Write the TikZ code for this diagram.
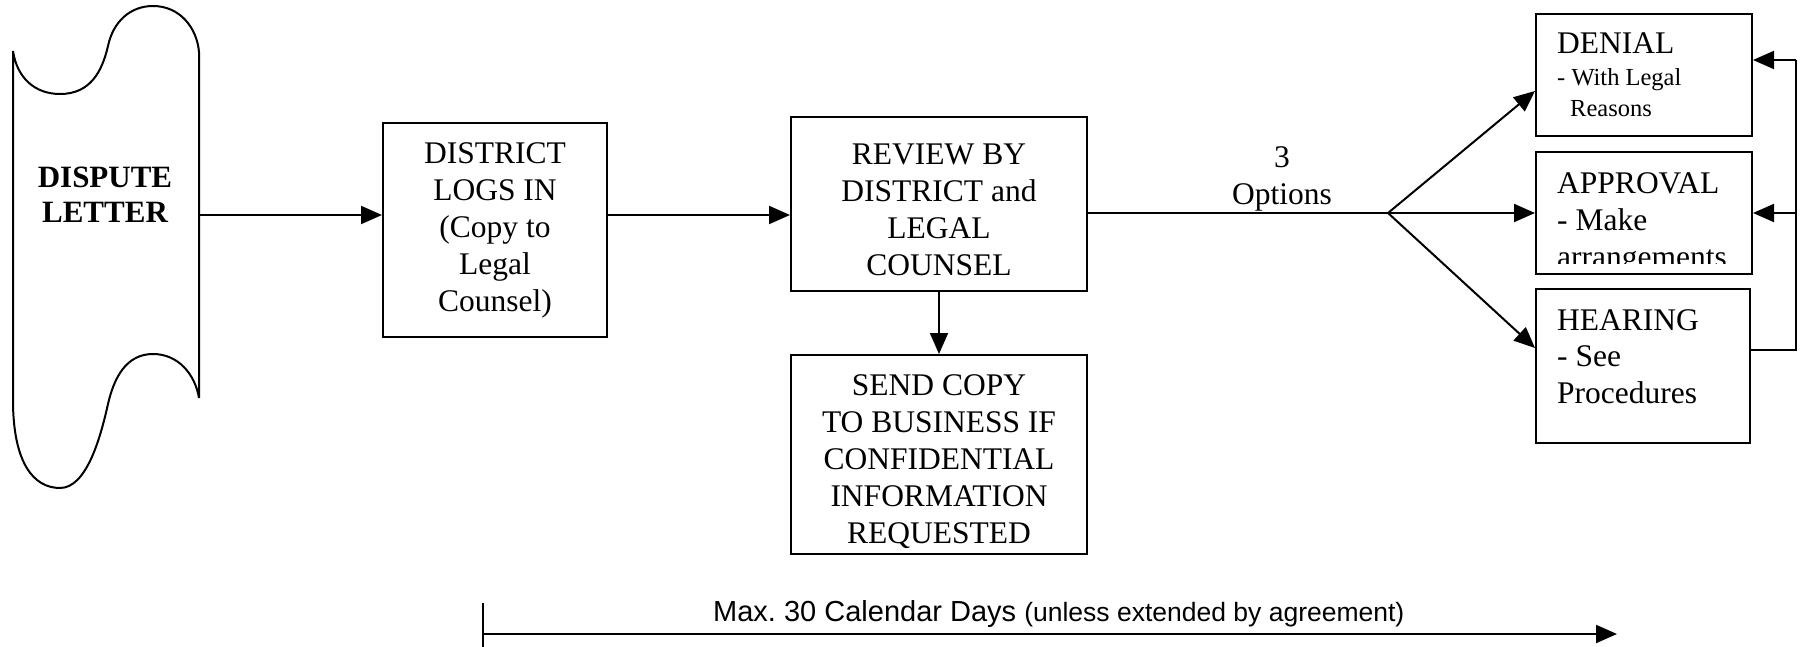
\documentclass[tikz,border=0pt]{standalone}
\usepackage{fontspec}
\setmainfont{Liberation Serif}
\newfontfamily\arialf{Liberation Sans}
\usetikzlibrary{arrows.meta,calc}
\frenchspacing
\tikzset{
  box/.style={draw, line width=2pt, inner sep=0pt},
  txt/.style={inner sep=0pt, align=center, font=\fontsize{31.5}{37}\selectfont},
  ltxt/.style={inner sep=0pt, align=left, font=\fontsize{31.5}{37}\selectfont},
  stxt/.style={inner sep=0pt, font=\fontsize{24.5}{31}\selectfont},
  conn/.style={line width=2pt},
  arr/.style={line width=2pt, -{Triangle[length=21pt,width=18pt]}},
}
\begin{document}
\begin{tikzpicture}[x=1pt,y=-1pt]
\useasboundingbox (0,0) rectangle (1807,647);

% Dispute letter (tape shape)
\draw[line width=2pt]
  (13,51) .. controls (17,78) and (35,94) .. (60,94)
  .. controls (90,94) and (102,72) .. (108,46)
  .. controls (113,22) and (130,6) .. (153,6)
  .. controls (180,6) and (197,28) .. (199,52)
  -- (199,398)
  .. controls (195,374) and (178,354) .. (153,354)
  .. controls (126,354) and (114,378) .. (108,404)
  .. controls (100,440) and (86,488) .. (60,488)
  .. controls (33,488) and (13,462) .. (13,400)
  -- cycle;
\node[txt, anchor=north, font=\bfseries\fontsize{31}{35}\selectfont] (letter) at (105,166.5) {DISPUTE\\LETTER};
\coordinate (letterR) at (199,215);

% Boxes
\node[box, minimum width=224pt, minimum height=214pt] (district) at (495,230) {};
\node[box, minimum width=296pt, minimum height=174pt] (review) at (939,204) {};
\node[box, minimum width=296pt, minimum height=199pt] (send) at (939,454.5) {};
\node[box, minimum width=216pt, minimum height=122pt] (denial) at (1644,75) {};
\node[box, minimum width=216pt, minimum height=122pt] (approval) at (1644,213) {};
\node[box, minimum width=214pt, minimum height=154pt] (hearing) at (1643,366) {};

% Texts
\node[txt, anchor=north] (districtT) at (495,142) {DISTRICT\\LOGS IN\\(Copy to\\Legal\\Counsel)};
\node[txt, anchor=north] (reviewT) at (939,144) {REVIEW BY\\DISTRICT and\\LEGAL\\COUNSEL};
\node[txt, anchor=north] (sendT) at (939,374) {SEND COPY\\TO BUSINESS IF\\CONFIDENTIAL\\INFORMATION\\REQUESTED};
\node[txt, anchor=north] (optionsT) at (1282,146.5) {3\\Options};

\node[txt, anchor=base west] (den1) at (1557,54) {DENIAL};
\node[stxt, anchor=base west] (den2) at (1557,86) {- With Legal};
\node[stxt, anchor=base west] (den3) at (1570,117) {Reasons};

\begin{scope}
  \clip (1537,153) rectangle (1751,263.5);
  \node[ltxt, anchor=north west] (approvalT) at (1557,172) {APPROVAL\\- Make\\arrangements};
\end{scope}

\node[ltxt, anchor=north west, font=\fontsize{31.5}{36.5}\selectfont] (hearingT) at (1557,309) {HEARING\\- See\\Procedures};

% Connectors
\draw[arr] (letterR) -- (letterR -| district.west);
\draw[arr] (district.east |- letterR) -- (review.west |- letterR);
\draw[arr] (review.south) -- (send.north);
\coordinate (branch) at (1388,213);
\draw[conn] (review.east |- branch) -- (branch);
\draw[arr] (branch) -- ([yshift=-16pt]denial.west);
\draw[arr] (branch) -- (approval.west);
\draw[arr] (branch) -- ([yshift=18pt]hearing.west);

\coordinate (fbB) at (1796,350);
\coordinate (fbT) at (1796,60);
\draw[conn] ([yshift=16pt]hearing.east) -- (fbB) -- (fbT);
\draw[arr] (fbT) -- (fbT -| denial.east);
\draw[arr] (fbB |- approval.east) -- (approval.east);

% Timeline
\coordinate (tickT) at (483,603);
\coordinate (tickB) at (483,647);
\coordinate (tlS) at (483,634);
\coordinate (tlE) at (1617,634);
\draw[conn] (tickT) -- (tickB);
\draw[arr] (tlS) -- (tlE);
\node[inner sep=0pt, anchor=base west, font=\arialf\fontsize{29}{34}\selectfont] (maxT) at (713,621)
  {Max. 30 Calendar Days {\fontsize{26.5}{30}\selectfont(unless extended by agreement)}};
\end{tikzpicture}
\end{document}
